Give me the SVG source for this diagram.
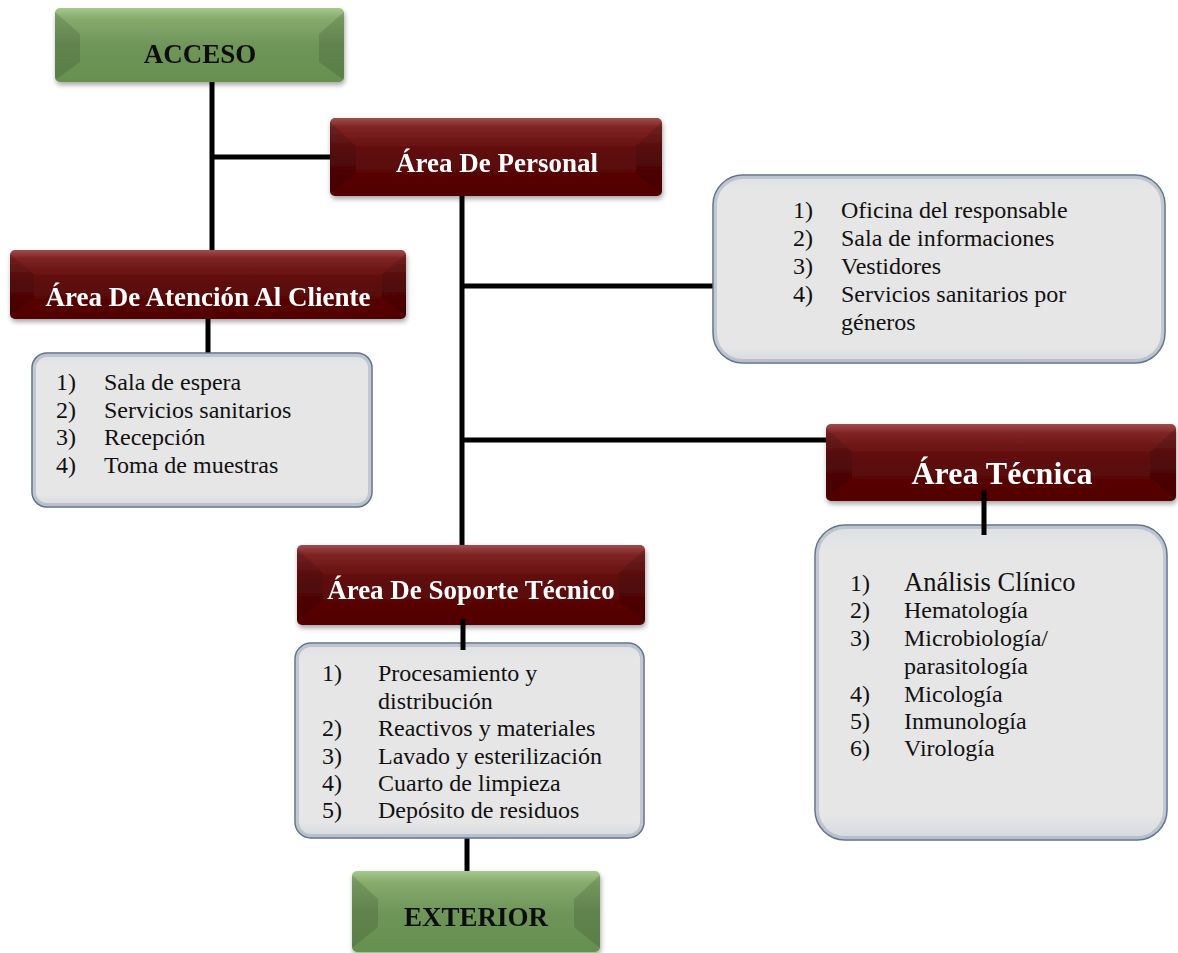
<svg xmlns="http://www.w3.org/2000/svg" width="1178" height="953" viewBox="0 0 1178 953">
  <defs>
    <linearGradient id="maroon" x1="0" y1="0" x2="0" y2="1">
      <stop offset="0" stop-color="#a04c4c"/>
      <stop offset="0.12" stop-color="#7e2424"/>
      <stop offset="0.45" stop-color="#5e0a0a"/>
      <stop offset="1" stop-color="#520202"/>
    </linearGradient>
    <linearGradient id="green" x1="0" y1="0" x2="0" y2="1">
      <stop offset="0" stop-color="#a6c98d"/>
      <stop offset="0.14" stop-color="#86ab6c"/>
      <stop offset="0.5" stop-color="#6f955a"/>
      <stop offset="1" stop-color="#66904f"/>
    </linearGradient>
    <linearGradient id="panel" x1="0" y1="0" x2="0" y2="1">
      <stop offset="0" stop-color="#dde0e4"/>
      <stop offset="0.08" stop-color="#e6e6e6"/>
      <stop offset="0.92" stop-color="#e6e6e6"/>
      <stop offset="1" stop-color="#d4d8de"/>
    </linearGradient>
    <filter id="shadow" x="-10%" y="-20%" width="120%" height="150%">
      <feDropShadow dx="1" dy="3" stdDeviation="2.5" flood-color="#000" flood-opacity="0.35"/>
    </filter>
  </defs>
  <style>
    .title { font-family: "Liberation Serif", "Times New Roman", serif; font-weight: bold; text-anchor: middle; font-size: 27px; }
    .big { font-size: 32px; }
    .light { fill: #ffffff; }
    .dark { fill: #111111; }
    .item { font-family: "Liberation Serif", "Times New Roman", serif; font-size: 24px; fill: #111111; }
    .lead { font-size: 26.5px; }
    .wire { stroke: #000000; stroke-width: 5; fill: none; }
    .panel { fill: url(#panel); stroke: #5d6f8a; stroke-width: 1.5; }
    .rim { fill: none; stroke: #7d8ea6; stroke-width: 4; opacity: 0.35; }
    .bevelDark { fill: #000000; opacity: 0.12; }
  </style>

  <!-- connectors -->
  <g id="connectors">
    <line class="wire" x1="212" y1="80" x2="212" y2="252"/>
    <line class="wire" x1="212" y1="157" x2="332" y2="157"/>
    <line class="wire" x1="462" y1="195" x2="462" y2="547"/>
    <line class="wire" x1="462" y1="286" x2="715" y2="286"/>
    <line class="wire" x1="462" y1="440" x2="828" y2="440"/>
    <line class="wire" x1="208" y1="317" x2="208" y2="355"/>
    <line class="wire" x1="467" y1="836" x2="467" y2="873"/>
  </g>

  <!-- ACCESO -->
  <g id="acceso" filter="url(#shadow)">
    <rect x="55" y="8" width="289" height="74" rx="5" fill="url(#green)"/>
    <polygon class="bevelDark" points="55,12 80,34 80,62 55,80"/>
    <polygon class="bevelDark" points="344,12 319,34 319,62 344,80"/>
    <text class="title dark" x="200" y="63">ACCESO</text>
  </g>

  <!-- Área De Personal -->
  <g id="personal" filter="url(#shadow)">
    <rect x="330" y="118" width="332" height="78" rx="5" fill="url(#maroon)"/>
    <polygon class="bevelDark" points="330,122 356,146 356,174 330,194"/>
    <polygon class="bevelDark" points="662,122 636,146 636,174 662,194"/>
    <text class="title light" x="497" y="172">Área De Personal</text>
  </g>

  <!-- Área De Atención Al Cliente -->
  <g id="atencion" filter="url(#shadow)">
    <rect x="10" y="250" width="396" height="69" rx="5" fill="url(#maroon)"/>
    <polygon class="bevelDark" points="10,254 34,274 34,298 10,317"/>
    <polygon class="bevelDark" points="406,254 382,274 382,298 406,317"/>
    <text class="title light" x="208" y="306">Área De Atención Al Cliente</text>
  </g>

  <!-- Atención list -->
  <g id="atencion-list">
    <rect class="panel" x="32" y="353" width="340" height="154" rx="15"/>
    <rect class="rim" x="34" y="355" width="336" height="150" rx="13"/>
    <text class="item" x="56" y="390">1)</text><text class="item" x="104" y="390">Sala de espera</text>
    <text class="item" x="56" y="418">2)</text><text class="item" x="104" y="418">Servicios sanitarios</text>
    <text class="item" x="56" y="445">3)</text><text class="item" x="104" y="445">Recepción</text>
    <text class="item" x="56" y="473">4)</text><text class="item" x="104" y="473">Toma de muestras</text>
  </g>

  <!-- Personal list -->
  <g id="personal-list">
    <rect class="panel" x="713" y="175" width="452" height="188" rx="30"/>
    <rect class="rim" x="715" y="177" width="448" height="184" rx="28"/>
    <text class="item" x="793" y="218">1)</text><text class="item" x="841" y="218">Oficina del responsable</text>
    <text class="item" x="793" y="246">2)</text><text class="item" x="841" y="246">Sala de informaciones</text>
    <text class="item" x="793" y="274">3)</text><text class="item" x="841" y="274">Vestidores</text>
    <text class="item" x="793" y="302">4)</text><text class="item" x="841" y="302">Servicios sanitarios por</text>
    <text class="item" x="841" y="330">géneros</text>
  </g>

  <!-- Área Técnica -->
  <g id="tecnica" filter="url(#shadow)">
    <rect x="826" y="424" width="350" height="77" rx="5" fill="url(#maroon)"/>
    <polygon class="bevelDark" points="826,428 852,452 852,478 826,499"/>
    <polygon class="bevelDark" points="1176,428 1150,452 1150,478 1176,499"/>
    <text class="title big light" x="1002" y="484">Área Técnica</text>
  </g>

  <!-- Técnica list -->
  <g id="tecnica-list">
    <rect class="panel" x="815" y="525" width="352" height="315" rx="30"/>
    <rect class="rim" x="817" y="527" width="348" height="311" rx="28"/>
    <text class="item" x="850" y="591">1)</text><text class="item lead" x="904" y="591">Análisis Clínico</text>
    <text class="item" x="850" y="618">2)</text><text class="item" x="904" y="618">Hematología</text>
    <text class="item" x="850" y="646">3)</text><text class="item" x="904" y="646">Microbiología/</text>
    <text class="item" x="904" y="674">parasitología</text>
    <text class="item" x="850" y="702">4)</text><text class="item" x="904" y="702">Micología</text>
    <text class="item" x="850" y="729">5)</text><text class="item" x="904" y="729">Inmunología</text>
    <text class="item" x="850" y="756">6)</text><text class="item" x="904" y="756">Virología</text>
  </g>
  <line class="wire" x1="984" y1="490" x2="984" y2="535"/>

  <!-- Área De Soporte Técnico -->
  <g id="soporte" filter="url(#shadow)">
    <rect x="297" y="545" width="348" height="80" rx="5" fill="url(#maroon)"/>
    <polygon class="bevelDark" points="297,549 323,573 323,601 297,621"/>
    <polygon class="bevelDark" points="645,549 619,573 619,601 645,621"/>
    <text class="title light" x="471" y="599">Área De Soporte Técnico</text>
  </g>

  <!-- Soporte list -->
  <g id="soporte-list">
    <rect class="panel" x="295" y="643" width="349" height="195" rx="16"/>
    <rect class="rim" x="297" y="645" width="345" height="191" rx="14"/>
    <text class="item" x="322" y="681">1)</text><text class="item" x="378" y="681">Procesamiento y</text>
    <text class="item" x="378" y="709">distribución</text>
    <text class="item" x="322" y="736">2)</text><text class="item" x="378" y="736">Reactivos y materiales</text>
    <text class="item" x="322" y="764">3)</text><text class="item" x="378" y="764">Lavado y esterilización</text>
    <text class="item" x="322" y="791">4)</text><text class="item" x="378" y="791">Cuarto de limpieza</text>
    <text class="item" x="322" y="818">5)</text><text class="item" x="378" y="818">Depósito de residuos</text>
  </g>
  <line class="wire" x1="463" y1="619" x2="463" y2="650"/>

  <!-- EXTERIOR -->
  <g id="exterior" filter="url(#shadow)">
    <rect x="352" y="871" width="248" height="81" rx="5" fill="url(#green)"/>
    <polygon class="bevelDark" points="352,875 378,899 378,927 352,948"/>
    <polygon class="bevelDark" points="600,875 574,899 574,927 600,948"/>
    <text class="title dark" x="476" y="926">EXTERIOR</text>
  </g>
</svg>
